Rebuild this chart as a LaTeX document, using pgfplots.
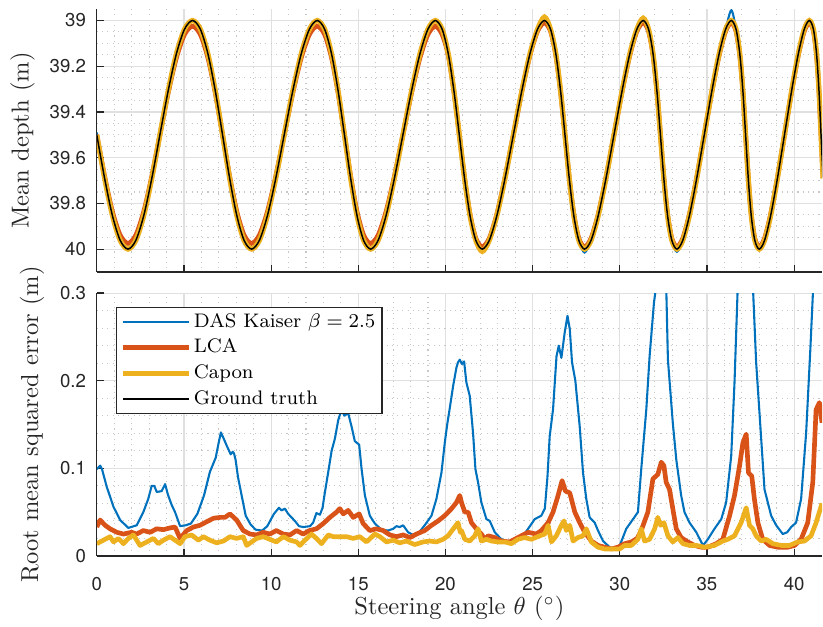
\documentclass[border=0pt]{standalone}
\usepackage{fontspec}
\setsansfont{TeX Gyre Heros}
\usepackage{pgfplots}
\pgfplotsset{compat=1.18}
\usepackage{pgfplotstable}
\usetikzlibrary{calc}
\definecolor{cDAS}{RGB}{0,114,189}
\definecolor{cLCA}{RGB}{217,83,25}
\definecolor{cCap}{RGB}{237,177,32}
\definecolor{axc}{RGB}{38,38,38}

\pgfplotstableread{
th gt das lca cap
0.0000 39.5 39.49 39.5 39.5
0.4511 39.6913 39.6913 39.6817 39.6913
0.8985 39.8536 39.8536 39.8359 39.8536
1.3441 39.9619 39.9619 39.9388 39.9619
1.7899 40 40 39.975 40
2.2391 39.9619 39.9619 39.9388 39.9619
2.6936 39.8536 39.8536 39.8359 39.8536
3.1545 39.6913 39.6913 39.6817 39.6913
3.6215 39.5 39.5 39.5 39.5
4.0924 39.3087 39.3087 39.3183 39.3087
4.5642 39.1464 39.1464 39.1641 39.1464
5.0322 39.0381 39.0381 39.0612 39.0381
5.4923 39 39 39.025 39
5.9411 39.0381 39.0381 39.0612 39.0381
6.3769 39.1464 39.1464 39.1641 39.1464
6.8003 39.3087 39.3087 39.3183 39.3087
7.2143 39.5 39.5 39.5 39.5
7.6234 39.6913 39.6913 39.6817 39.6913
8.0337 39.8536 39.8536 39.8359 39.8536
8.4510 39.9619 39.9619 39.9388 39.9619
8.8806 40 40 39.975 40
9.3258 39.9619 39.9619 39.9388 39.9619
9.7874 39.8536 39.8536 39.8359 39.8536
10.2641 39.6913 39.6913 39.6817 39.6913
10.7509 39.5 39.5 39.5 39.5
11.2409 39.3087 39.3087 39.3183 39.3087
11.7255 39.1464 39.1464 39.1641 39.1464
12.1961 39.0381 39.0381 39.0612 39.0381
12.6454 39 39 39.025 39
13.0694 39.0381 39.0381 39.0612 39.0381
13.4678 39.1464 39.1464 39.1641 39.1464
13.8444 39.3087 39.3087 39.3183 39.3087
14.2067 39.5 39.5 39.5 39.5
14.5644 39.6913 39.6913 39.6817 39.6913
14.9278 39.8536 39.8536 39.8359 39.8536
15.3068 39.9619 39.9619 39.9388 39.9619
15.7086 40 40.005 39.975 40
16.1371 39.9619 39.9619 39.9388 39.9619
16.5923 39.8536 39.8536 39.8359 39.8536
17.0694 39.6913 39.6913 39.6817 39.6913
17.5603 39.5 39.5 39.5 39.5
18.0531 39.3087 39.3087 39.3183 39.3087
18.5352 39.1464 39.1464 39.1641 39.1464
18.9942 39.0381 39.0381 39.0612 39.0381
19.4208 39 39 39.025 39
19.8102 39.0381 39.0381 39.0612 39.0381
20.1638 39.1464 39.1464 39.1535 39.1464
20.4879 39.3087 39.3087 39.3125 39.3087
20.7941 39.5 39.5 39.5 39.5
21.0961 39.6913 39.6913 39.6875 39.6913
21.4082 39.8536 39.8536 39.8465 39.8536
21.7430 39.9619 39.9619 39.9527 39.9619
22.1094 40 40 39.99 40.01
22.5119 39.9619 39.9619 39.9527 39.9619
22.9487 39.8536 39.8536 39.8465 39.8536
23.4140 39.6913 39.6913 39.6875 39.6913
23.8951 39.5 39.5 39.5 39.5
24.3774 39.3087 39.3087 39.3125 39.3087
24.8446 39.1464 39.1464 39.1535 39.1464
25.2812 39.0381 39.0381 39.0473 39.0381
25.6768 39 39 39.01 38.985
26.0263 39.0381 39.0381 39.0473 39.0381
26.3326 39.1464 39.1464 39.1535 39.1464
26.6038 39.3087 39.3087 39.3125 39.3087
26.8545 39.5 39.5 39.5 39.5
27.1017 39.6913 39.6913 39.6875 39.6913
27.3624 39.8536 39.8536 39.8465 39.8536
27.6518 39.9619 39.9619 39.9527 39.9619
27.9795 40 40.015 39.99 40
28.3502 39.9619 39.9619 39.9527 39.9619
28.7617 39.8536 39.8536 39.8465 39.8536
29.2053 39.6913 39.6913 39.6875 39.6913
29.6668 39.5 39.5 39.5 39.5
30.1285 39.3087 39.3087 39.3125 39.3087
30.5717 39.1464 39.1464 39.1535 39.1464
30.9796 39.0381 39.0381 39.0473 39.0381
31.3404 39 39 39.01 38.99
31.6491 39.0381 39.0381 39.0473 39.0381
31.9090 39.1464 39.1464 39.1535 39.1464
32.1305 39.3087 39.3087 39.3125 39.3087
32.3302 39.5 39.5 39.5 39.5
32.5271 39.6913 39.6913 39.6875 39.6913
32.7401 39.8536 39.8536 39.8465 39.8536
32.9858 39.9619 39.9619 39.9527 39.9619
33.2749 40 40.012 39.99 40
33.6117 39.9619 39.9619 39.9527 39.9619
33.9935 39.8536 39.8536 39.8465 39.8536
34.4101 39.6913 39.6913 39.6875 39.6913
34.8457 39.5 39.5 39.5 39.5
35.2810 39.3087 39.3087 39.3125 39.3087
35.6956 39.1464 39.1464 39.1535 39.1464
36.0716 39.0381 39.0381 39.0473 39.0381
36.3968 39 38.955 39.01 39
36.6663 39.0381 39.0381 39.0473 39.0381
36.8841 39.1464 39.1464 39.1535 39.1464
37.0615 39.3087 39.3087 39.3125 39.3087
37.2164 39.5 39.5 39.5 39.5
37.3692 39.6913 39.6913 39.6875 39.6913
37.5400 39.8536 39.8536 39.8465 39.8536
37.7461 39.9619 39.9619 39.9527 39.9619
37.9987 40 40 39.99 40
38.3022 39.9619 39.9619 39.9527 39.9619
38.6529 39.8536 39.8536 39.8465 39.8536
39.0402 39.6913 39.6913 39.6875 39.6913
39.4470 39.5 39.5 39.5 39.5
39.8531 39.3087 39.3087 39.3125 39.3087
40.2373 39.1464 39.1464 39.1535 39.1464
40.5811 39.0381 39.0381 39.0473 39.0381
40.8724 39 39 39.01 39
41.1062 39.0381 39.0381 39.0473 39.0381
41.2868 39.1464 39.1464 39.1535 39.1464
41.4268 39.3087 39.3087 39.3125 39.3087
41.5434 39.5 39.5 39.5 39.5
41.6586 39.6913 39.6913 39.6875 39.6913
}\depthdata

\pgfplotstableread{
th v
0 0.099
0.2 0.103
0.3 0.099
0.57 0.079
0.96 0.056
1.34 0.041
1.81 0.032
2.29 0.035
2.67 0.050
2.95 0.065
3.15 0.080
3.3 0.080
3.44 0.073
3.72 0.074
3.92 0.082
4.08 0.070
4.3 0.058
4.49 0.050
4.78 0.034
5.1 0.035
5.4 0.037
5.77 0.048
6.15 0.069
6.49 0.096
6.82 0.112
7.0 0.130
7.12 0.141
7.3 0.133
7.45 0.126
7.68 0.116
7.8 0.119
7.87 0.117
7.96 0.110
8.1 0.090
8.25 0.075
8.54 0.046
8.82 0.036
9.11 0.030
9.49 0.029
9.78 0.034
10.16 0.048
10.45 0.055
10.6 0.052
10.79 0.054
10.98 0.048
11.17 0.044
11.36 0.040
11.6 0.034
11.84 0.033
12.23 0.034
12.41 0.038
12.6 0.049
12.8 0.047
12.95 0.055
13.08 0.072
13.27 0.095
13.47 0.120
13.66 0.134
13.85 0.155
14.04 0.167
14.2 0.160
14.42 0.163
14.61 0.148
14.8 0.131
15.05 0.127
15.19 0.099
15.38 0.069
15.66 0.046
15.95 0.037
16.33 0.030
16.71 0.029
17.0 0.031
17.19 0.034
17.38 0.033
17.57 0.035
17.86 0.027
18.24 0.023
18.53 0.028
18.81 0.035
19.2 0.046
19.48 0.065
19.77 0.095
19.96 0.129
20.1 0.150
20.25 0.169
20.44 0.194
20.63 0.215
20.72 0.221
20.82 0.224
20.95 0.219
21.07 0.222
21.2 0.198
21.39 0.183
21.58 0.141
21.72 0.099
21.87 0.084
22.06 0.061
22.35 0.042
22.54 0.040
22.83 0.027
23.21 0.019
23.68 0.016
24.07 0.019
24.45 0.023
24.74 0.031
25.12 0.042
25.5 0.046
25.7 0.054
25.85 0.090
25.98 0.137
26.17 0.167
26.37 0.228
26.5 0.240
26.65 0.226
26.84 0.255
27.0 0.274
27.13 0.259
27.26 0.221
27.45 0.200
27.7 0.148
27.89 0.095
28.08 0.065
28.27 0.044
28.56 0.038
28.75 0.029
29.04 0.017
29.42 0.010
29.71 0.008
30.0 0.012
30.37 0.031
30.76 0.042
31.04 0.050
31.23 0.099
31.52 0.167
31.71 0.228
31.96 0.289
32.1 0.31
32.38 0.36
32.66 0.31
32.76 0.224
33.04 0.152
33.24 0.110
33.52 0.069
33.71 0.050
34.0 0.038
34.39 0.027
34.77 0.012
35.05 0.019
35.43 0.031
35.82 0.042
36.1 0.061
36.39 0.114
36.58 0.198
36.77 0.31
37.2 0.45
37.63 0.31
37.82 0.221
38.01 0.164
38.3 0.076
38.68 0.046
38.97 0.035
39.35 0.025
39.6 0.027
39.83 0.033
40.11 0.038
40.4 0.065
40.69 0.141
40.93 0.236
41.1 0.31
41.6 0.6
}\dasrmse

\pgfplotstableread{
th v
0 0.033
0.19 0.041
0.48 0.035
0.76 0.031
1.15 0.027
1.53 0.025
2.0 0.027
2.29 0.025
2.67 0.029
3.06 0.027
3.44 0.031
3.82 0.030
4.2 0.032
4.49 0.033
4.78 0.020
5.16 0.029
5.54 0.033
5.92 0.035
6.3 0.039
6.69 0.043
7.07 0.044
7.35 0.044
7.64 0.048
8.02 0.041
8.4 0.029
8.79 0.025
9.17 0.024
9.55 0.027
9.93 0.025
10.3 0.029
10.7 0.025
11.08 0.024
11.46 0.029
11.84 0.025
12.2 0.029
12.6 0.031
12.99 0.037
13.37 0.044
13.75 0.050
13.94 0.054
14.14 0.048
14.42 0.052
14.71 0.044
15.05 0.048
15.28 0.037
15.66 0.029
16.05 0.031
16.43 0.029
16.81 0.024
17.19 0.022
17.57 0.024
17.96 0.021
18.34 0.025
18.81 0.029
19.2 0.035
19.58 0.040
19.96 0.046
20.35 0.054
20.63 0.061
20.82 0.069
20.92 0.061
21.11 0.050
21.3 0.050
21.49 0.038
21.77 0.031
22.06 0.025
22.25 0.019
22.45 0.023
22.83 0.021
23.21 0.017
23.68 0.016
23.97 0.019
24.35 0.023
24.74 0.027
25.21 0.025
25.5 0.029
25.89 0.038
26.17 0.050
26.46 0.069
26.69 0.086
26.88 0.074
27.13 0.072
27.42 0.050
27.7 0.038
27.99 0.027
28.37 0.017
28.75 0.012
29.13 0.010
29.51 0.008
29.89 0.010
30.28 0.014
30.66 0.016
31.0 0.020
31.23 0.029
31.61 0.050
31.9 0.088
32.18 0.093
32.38 0.107
32.53 0.103
32.66 0.084
32.85 0.076
33.04 0.054
33.24 0.031
33.52 0.021
33.9 0.016
34.29 0.012
34.67 0.010
35.05 0.010
35.53 0.014
35.91 0.019
36.3 0.046
36.58 0.069
36.87 0.103
37.06 0.129
37.25 0.139
37.38 0.095
37.57 0.091
37.72 0.065
37.92 0.038
38.2 0.019
38.59 0.012
39.06 0.010
39.64 0.010
40.02 0.012
40.4 0.019
40.78 0.038
41.07 0.084
41.26 0.167
41.45 0.175
41.6 0.152
}\lcarmse

\pgfplotstableread{
th v
0 0.014
0.38 0.018
0.76 0.022
0.96 0.016
1.24 0.020
1.53 0.014
1.81 0.020
2.1 0.024
2.48 0.012
2.87 0.016
3.25 0.020
3.53 0.014
3.82 0.018
4.2 0.022
4.49 0.018
4.78 0.014
5.06 0.022
5.44 0.024
5.83 0.018
6.11 0.022
6.49 0.018
6.88 0.015
7.26 0.017
7.64 0.022
8.02 0.020
8.4 0.022
8.6 0.012
8.88 0.016
9.17 0.020
9.55 0.022
9.93 0.019
10.3 0.016
10.7 0.022
11.08 0.018
11.46 0.016
11.65 0.012
11.94 0.018
12.32 0.025
12.6 0.020
12.89 0.014
13.28 0.024
13.56 0.022
13.94 0.022
14.33 0.022
14.71 0.020
15.09 0.022
15.47 0.016
15.95 0.025
16.24 0.022
16.62 0.016
17.0 0.018
17.38 0.015
17.76 0.017
18.24 0.013
18.72 0.016
19.1 0.017
19.48 0.016
19.86 0.019
20.15 0.023
20.53 0.033
20.72 0.038
20.85 0.027
20.92 0.029
21.11 0.019
21.39 0.017
21.68 0.023
21.87 0.031
22.06 0.017
22.35 0.019
22.64 0.017
23.02 0.016
23.4 0.016
23.78 0.014
24.16 0.019
24.54 0.021
24.93 0.019
25.41 0.023
25.7 0.025
25.89 0.035
26.08 0.016
26.36 0.023
26.65 0.035
26.8 0.040
26.93 0.029
27.13 0.035
27.32 0.017
27.6 0.021
27.89 0.023
28.08 0.031
28.37 0.016
28.75 0.010
29.13 0.008
29.51 0.008
29.99 0.008
30.28 0.012
30.66 0.012
31.04 0.019
31.23 0.031
31.42 0.017
31.71 0.019
32.0 0.031
32.18 0.044
32.34 0.035
32.53 0.038
32.76 0.023
33.04 0.016
33.33 0.021
33.62 0.014
34.0 0.012
34.39 0.012
34.86 0.010
35.43 0.012
35.91 0.017
36.2 0.019
36.58 0.023
36.96 0.038
37.25 0.055
37.44 0.035
37.63 0.031
37.82 0.023
38.11 0.017
38.4 0.019
38.78 0.014
39.26 0.012
39.73 0.012
40.21 0.016
40.59 0.017
40.97 0.023
41.26 0.038
41.6 0.060
}\caprmse

\pgfplotsset{
  myaxis/.style={
    scale only axis, width=296pt, height=107.3pt,
    xmin=0, xmax=41.6,
    axis x line*=bottom, axis y line*=left,
    axis line style={axc, line width=0.5pt, -},
    tick style={axc, line width=0.5pt},
    tick align=inside,
    major tick length=3pt, minor tick length=0pt,
    grid=both,
    major grid style={line width=0.45pt, draw=black!12},
    minor grid style={line width=0.45pt, draw=black!22, dash pattern=on 0.45pt off 1.7pt},
    xtick={0,5,...,40}, minor x tick num=4,
    ticklabel style={font=\fontsize{7.6}{9}\sffamily, text=axc},
    xticklabel style={yshift=-5.2pt},
    yticklabel style={xshift=-0.9pt},
    /pgf/number format/assume math mode=true,
    scaled ticks=false,
    label style={font=\fontsize{10}{12}\selectfont, text=axc},
  },
}

\begin{document}
\begin{tikzpicture}
\begin{axis}[myaxis, name=bot, at={(0,0)}, anchor=south west,
  ymin=0, ymax=0.3, ytick={0,0.1,0.2,0.3}, minor y tick num=4,
  xlabel={Steering angle $\theta$ ($^\circ$)},
  ylabel={Root mean squared error (m)},
  xlabel style={at={(axis description cs:0.5,0)}, anchor=center, yshift=-21.3pt},
  ylabel style={at={(axis description cs:-0.0892,0.5)}, anchor=center, rotate=0},
  legend cell align=left,
  legend image code/.code={\draw[#1] (0pt,0pt) -- (27pt,0pt);},
  legend style={at={(axis description cs:0,1)}, anchor=north west, xshift=7.8pt, yshift=-5.5pt,
    draw=axc, line width=0.5pt, fill=white, font=\fontsize{8}{9.6}\selectfont,
    inner xsep=1.7pt, inner ysep=1pt, row sep=0.5pt,
    nodes={inner sep=1pt, text height=6.2pt, text depth=1.8pt}},
]
\addplot[cDAS, line width=0.85pt, line join=round] table[x=th, y=v] {\dasrmse};
\addlegendentry{DAS Kaiser $\beta=2.5$}
\addplot[cLCA, line width=1.9pt, line join=round] table[x=th, y=v] {\lcarmse};
\addlegendentry{LCA}
\addplot[cCap, line width=1.9pt, line join=round] table[x=th, y=v] {\caprmse};
\addlegendentry{Capon}
\addlegendimage{black, line width=0.5pt}
\addlegendentry{Ground truth}
\end{axis}

\begin{axis}[myaxis, name=top, at={(0,115.9pt)}, anchor=south west,
  ymin=38.95, ymax=40.1, y dir=reverse,
  ytick={39,39.2,39.4,39.6,39.8,40}, minor y tick num=3,
  xticklabels={},
  ylabel={Mean depth (m)},
  ylabel style={at={(axis description cs:-0.1023,0.5)}, anchor=center},
]
\addplot[cDAS, line width=0.85pt, smooth] table[x=th, y=das] {\depthdata};
\addplot[cLCA, line width=1.9pt, smooth] table[x=th, y=lca] {\depthdata};
\addplot[cCap, line width=2.1pt, smooth] table[x=th, y=cap] {\depthdata};
\addplot[black, line width=0.6pt, smooth] table[x=th, y=gt] {\depthdata};
\end{axis}

\pgfresetboundingbox
\path[use as bounding box] ($(bot.south west)+(-39.5pt,-28.7pt)$) rectangle ($(top.north east)+(0.4pt,3.7pt)$);
\end{tikzpicture}
\end{document}
